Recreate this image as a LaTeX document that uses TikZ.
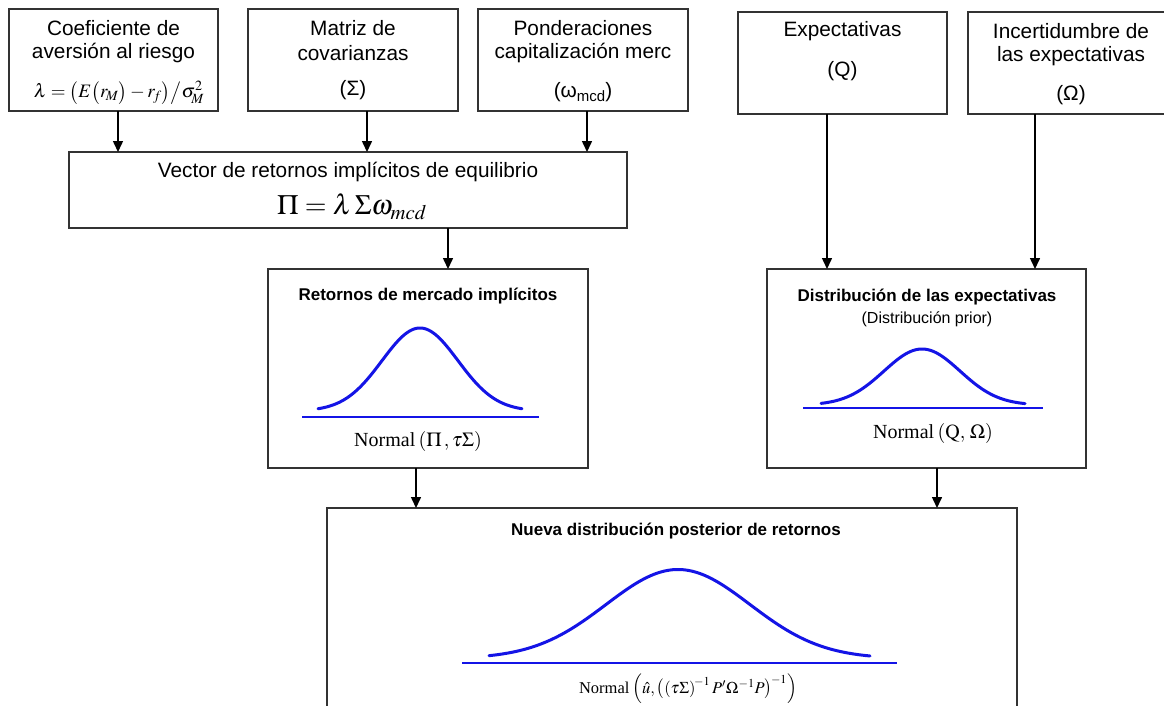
\documentclass[tikz,border=0pt]{standalone}
\usepackage{mathptmx}
\usepackage{fontspec}
\setmainfont{Liberation Sans}
\newfontfamily\tms{Liberation Serif}
\usetikzlibrary{arrows.meta}
\begin{document}
\begin{tikzpicture}[x=1pt,y=-1pt,
  box/.style={draw=black!80, line width=1.1pt, inner sep=0pt, outer sep=0pt},
  txt/.style={inner sep=0pt, font=\fontsize{20.8}{25}\selectfont},
  ttl/.style={inner sep=0pt, font=\fontsize{17}{20}\selectfont\bfseries},
  sub/.style={inner sep=0pt, font=\fontsize{16}{19}\selectfont},
  nrm/.style={inner sep=0pt, font=\fontsize{20}{24}\selectfont},
  arr/.style={-{Triangle[width=10pt,length=11pt]}, line width=1.5pt},
  curve/.style={draw={rgb,255:red,20;green,20;blue,230}, line width=3pt, line cap=round},
  baseln/.style={draw={rgb,255:red,20;green,20;blue,230}, line width=2.5pt}
]
\useasboundingbox (0,0) rectangle (1164,705);
\fill[white] (0,0) rectangle (1164,705);

% top boxes
\node[box, minimum width=209pt, minimum height=102pt] (b1) at (113.5,60) {};
\node[box, minimum width=210pt, minimum height=102pt] (b2) at (353,60) {};
\node[box, minimum width=210pt, minimum height=102pt] (b3) at (583,60) {};
\node[box, minimum width=209pt, minimum height=102pt] (b4) at (842.5,63) {};
\node[box, minimum width=206pt, minimum height=102pt] (b5) at (1071,63) {};

\node[txt] (t1a) at (113.5,28) {Coeficiente de};
\node[txt] (t1b) at (113.5,53) {aversión al riesgo};
\node[inner sep=0pt, font=\fontsize{19}{22}\selectfont] (t1c) at (119,93) {$\lambda = \bigl(E\bigl(r_{\!M}\bigr) - r_{\!f}\bigr)\big/\sigma_{\!M}^2$};

\node[txt] (t2a) at (353,28) {Matriz de};
\node[txt] (t2b) at (353,53) {covarianzas};
\node[txt] (t2c) at (353,90) {(Σ)};

\node[txt] (t3a) at (583,28) {Ponderaciones};
\node[txt] (t3b) at (583,53) {capitalización merc};
\node[txt] (t3c) at (583,92) {(ω\raisebox{-4pt}{\fontsize{15}{15}\selectfont mcd})};

\node[txt] (t4a) at (842.5,31) {Expectativas};
\node[txt] (t4b) at (842.5,71) {(Q)};

\node[txt] (t5a) at (1071,31) {Incertidumbre de};
\node[txt] (t5b) at (1071,56) {las expectativas};
\node[txt] (t5c) at (1071,95) {(Ω)};

% vector box
\node[box, minimum width=558pt, minimum height=76pt] (vec) at (348,190) {};
\node[txt] (tva) at (348,172) {Vector de retornos implícitos de equilibrio};
\node[inner sep=0pt, font=\fontsize{28}{32}\selectfont] (tvb) at (352,207) {$\Pi = \lambda\,\Sigma\omega_{mcd}$};

% distribution boxes
\node[box, minimum width=320pt, minimum height=199pt] (ret) at (428,368.5) {};
\node[box, minimum width=319pt, minimum height=199pt] (dist) at (926.5,368.5) {};
\node[box, minimum width=690pt, minimum height=212pt] (nue) at (672,614) {};

\node[ttl] (tra) at (428,296) {Retornos de mercado implícitos};
\node[nrm] (trb) at (418,441) {{\tms Normal}\,$\left(\Pi\,,\tau\Sigma\right)$};

\node[ttl] (tda) at (927,297) {Distribución de las expectativas};
\node[sub] (tdb) at (927,319) {(Distribución prior)};
\node[nrm] (tdc) at (933,433) {{\tms Normal}\,$\left(\mathrm{Q},\,\Omega\right)$};

\node[ttl] (tna) at (676,531) {Nueva distribución  posterior de retornos};
\node[inner sep=0pt, font=\fontsize{16.5}{20}\selectfont] (tnb) at (688,689) {{\tms Normal}\,$\Bigl(\hat{u},\bigl(\left(\tau\Sigma\right)^{\!-1}P'\Omega^{-1}P\bigr)^{\!-1}\Bigr)$};

% curves
\draw[curve] plot[domain=318:522,samples=100] (\x,{411-83*exp(-0.5*((\x-420)/38)^2)});
\draw[baseln] (302,417) -- (539,417);

\draw[curve] plot[domain=821:1025,samples=100] (\x,{405-56*exp(-0.5*((\x-922)/38)^2)});
\draw[baseln] (803,408) -- (1043,408);

\draw[curve] plot[domain=489:870,samples=140] (\x,{658.5-89*exp(-0.5*((\x-678)/72)^2)});
\draw[baseln] (462,663) -- (897,663);

% connectors
\draw[arr] ([xshift=4.5pt]b1.south) -- ([xshift=-230pt]vec.north);
\draw[arr] ([xshift=14pt]b2.south) -- ([xshift=19pt]vec.north);
\draw[arr] ([xshift=4pt]b3.south) -- ([xshift=239pt]vec.north);
\draw[arr] ([xshift=100pt]vec.south) -- ([xshift=20pt]ret.north);
\draw[arr] ([xshift=-15.5pt]b4.south) -- ([xshift=-99.5pt]dist.north);
\draw[arr] ([xshift=-36pt]b5.south) -- ([xshift=108.5pt]dist.north);
\draw[arr] ([xshift=-12pt]ret.south) -- ([xshift=-256pt]nue.north);
\draw[arr] ([xshift=10.5pt]dist.south) -- ([xshift=265pt]nue.north);
\end{tikzpicture}
\end{document}
